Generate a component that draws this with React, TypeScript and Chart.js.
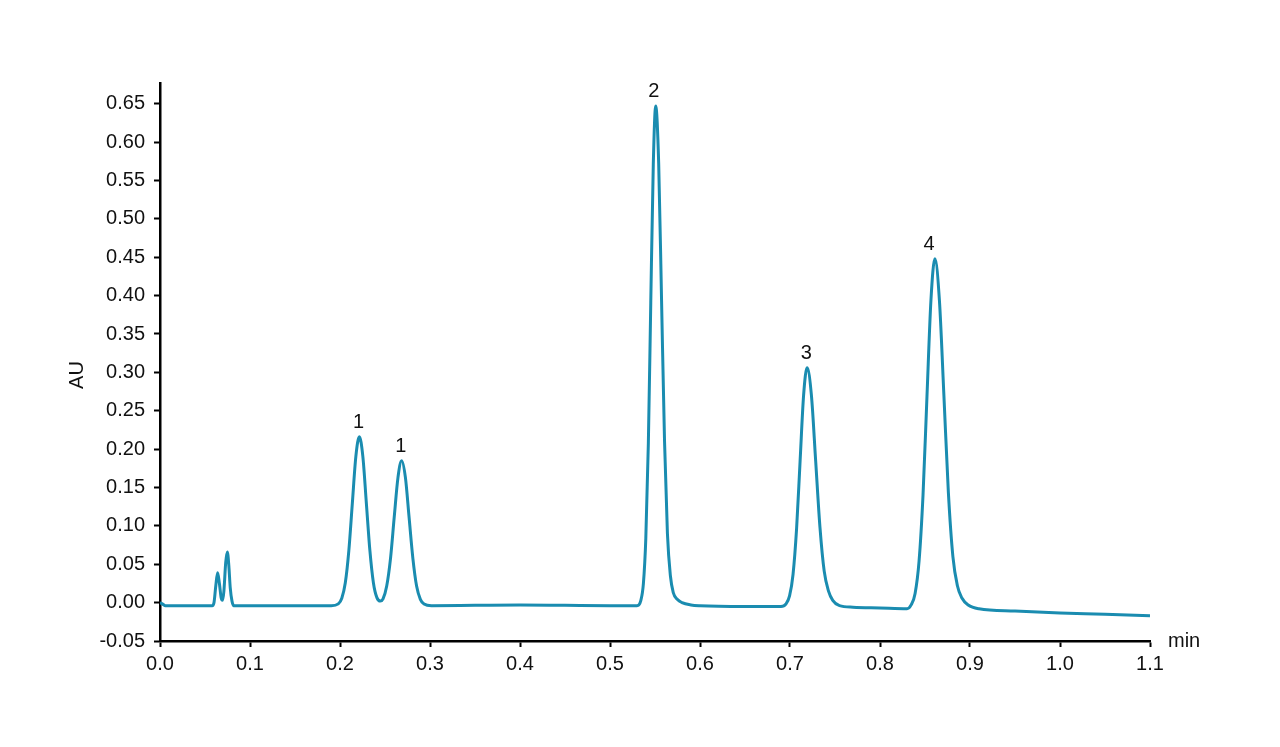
import { useEffect, useRef } from "react";
import { Chart, registerables } from "chart.js";

Chart.register(...registerables);

// Retention time (min)
const timeMin = [
  0.0, 0.003, 0.006, 0.03, 0.058, 0.06, 0.062, 0.064, 0.066, 0.068, 0.0695, 0.071, 0.073, 0.0748, 0.0765, 0.078, 0.08, 0.082,
  0.12, 0.16, 0.1903, 0.1981, 0.202, 0.2059, 0.2098, 0.2137, 0.2176, 0.2215, 0.2254, 0.2293, 0.2332, 0.2371, 0.241, 0.2448,
  0.2478, 0.2519, 0.2561, 0.2602, 0.2644, 0.2685, 0.2727, 0.2768, 0.281, 0.2851, 0.2893, 0.2934, 0.3017,
  0.35, 0.4, 0.45, 0.5, 0.53, 0.5343, 0.5371, 0.5398, 0.5426, 0.5453, 0.5481, 0.5508, 0.5541, 0.5573, 0.5606, 0.5638, 0.5671,
  0.5703, 0.575, 0.58, 0.59, 0.6, 0.65, 0.69, 0.6956, 0.6995, 0.7034, 0.7073, 0.7112, 0.7151, 0.719, 0.7238, 0.7285, 0.7333,
  0.738, 0.7428, 0.7475, 0.755, 0.77, 0.8, 0.83, 0.8346, 0.839, 0.8434, 0.8478, 0.8522, 0.8566, 0.861, 0.866, 0.871, 0.876,
  0.881, 0.886, 0.891, 0.898, 0.91, 0.95, 1.0, 1.05, 1.1,
];

// Absorbance (AU)
const absorbance = [
  0.0, -0.002, -0.004, -0.004, -0.004, 0.0, 0.022, 0.039, 0.025, 0.006, 0.003, 0.015, 0.052, 0.066, 0.048, 0.02, 0.002, -0.004,
  -0.004, -0.004, -0.004, -0.0016, 0.0057, 0.0258, 0.0674, 0.1294, 0.1902, 0.216, 0.1902, 0.1294, 0.068, 0.026, 0.0065, 0.002,
  0.005, 0.0216, 0.0574, 0.1106, 0.1628, 0.185, 0.1628, 0.1106, 0.0574, 0.0216, 0.0043, -0.0019, -0.004,
  -0.0035, -0.003, -0.0035, -0.004, -0.004, 0.003, 0.0246, 0.084, 0.207, 0.391, 0.571, 0.647, 0.572, 0.393, 0.21, 0.09, 0.035,
  0.013, 0.004, 0.0, -0.003, -0.004, -0.005, -0.005, -0.0015, 0.0087, 0.037, 0.096, 0.184, 0.27, 0.306, 0.27, 0.185, 0.098,
  0.041, 0.015, 0.003, -0.004, -0.006, -0.007, -0.008, -0.003, 0.012, 0.054, 0.14, 0.269, 0.394, 0.448, 0.394, 0.27, 0.143,
  0.06, 0.022, 0.006, -0.003, -0.008, -0.011, -0.0135, -0.015, -0.017,
];

const yTickValues = [-0.05, 0, 0.05, 0.1, 0.15, 0.2, 0.25, 0.3, 0.35, 0.4, 0.45, 0.5, 0.55, 0.6, 0.65];

const peakLabelTexts = ["1", "1", "2", "3", "4"];
const peakLabelTimes = [0.2205, 0.2675, 0.5488, 0.718, 0.8545];
const peakLabelValues = [0.216, 0.185, 0.647, 0.306, 0.448];

const FONT = '"Liberation Sans", Arial, Helvetica, sans-serif';
const LINE_COLOR = "#1a8cb0";

export default function App() {
  const ref = useRef<HTMLCanvasElement>(null);

  useEffect(() => {
    document.body.style.margin = "0";
    const canvas = ref.current!;

    const annotations = {
      id: "annotations",
      afterDatasetsDraw(chart: any) {
        const { ctx, scales } = chart;
        const xs = scales.x;
        const ys = scales.y;
        ctx.save();
        ctx.fillStyle = "#111";
        ctx.font = `20px ${FONT}`;
        ctx.textAlign = "center";
        ctx.textBaseline = "alphabetic";
        peakLabelTexts.forEach((txt, i) => {
          const px = xs.getPixelForValue(peakLabelTimes[i]);
          const py = ys.getPixelForValue(peakLabelValues[i]);
          ctx.fillText(txt, px, py - 9);
        });
        // axis titles
        ctx.font = `20px ${FONT}`;
        ctx.textAlign = "left";
        ctx.fillText("min", chart.chartArea.right + 18, chart.chartArea.bottom + 6);
        ctx.translate(77, 375);
        ctx.rotate(-Math.PI / 2);
        ctx.textAlign = "center";
        ctx.textBaseline = "middle";
        ctx.fillText("AU", 0, 0);
        ctx.restore();
      },
    };

    const chart = new Chart(canvas, {
      type: "line",
      data: {
        datasets: [
          {
            data: timeMin.map((t, i) => ({ x: t, y: absorbance[i] })),
            borderColor: LINE_COLOR,
            borderWidth: 3,
            pointRadius: 0,
            fill: false,
            cubicInterpolationMode: "monotone",
          },
        ],
      },
      options: {
        responsive: false,
        animation: false,
        devicePixelRatio: 1,
        layout: { padding: { left: 0, right: 130, top: 83, bottom: 0 } },
        plugins: { legend: { display: false }, tooltip: { enabled: false } },
        scales: {
          x: {
            type: "linear",
            min: 0,
            max: 1.1,
            ticks: {
              stepSize: 0.1,
              autoSkip: false,
              maxRotation: 0,
              color: "#111",
              padding: 5,
              font: { size: 20, family: FONT },
              callback: (v: any) => Number(v).toFixed(1),
            },
            grid: { drawOnChartArea: false, drawTicks: true, tickLength: 6, tickWidth: 2, tickColor: "#000" },
            border: { display: true, color: "#000", width: 2.5 },
            afterFit: (s: any) => {
              s.height = 106;
            },
          },
          y: {
            type: "linear",
            min: -0.05,
            max: 0.677,
            afterBuildTicks: (s: any) => {
              s.ticks = yTickValues.map((v) => ({ value: v }));
            },
            ticks: {
              autoSkip: false,
              color: "#111",
              padding: 9,
              font: { size: 20, family: FONT },
              callback: (v: any) => Number(v).toFixed(2),
            },
            grid: { drawOnChartArea: false, drawTicks: true, tickLength: 6, tickWidth: 2, tickColor: "#000" },
            border: { display: true, color: "#000", width: 2.5 },
            afterFit: (s: any) => {
              s.width = 160;
            },
          },
        },
      },
      plugins: [annotations],
    });

    return () => chart.destroy();
  }, []);

  return (
    <div style={{ width: 1280, height: 747, background: "#fff" }}>
      <canvas ref={ref} width={1280} height={747} style={{ display: "block" }} />
    </div>
  );
}
